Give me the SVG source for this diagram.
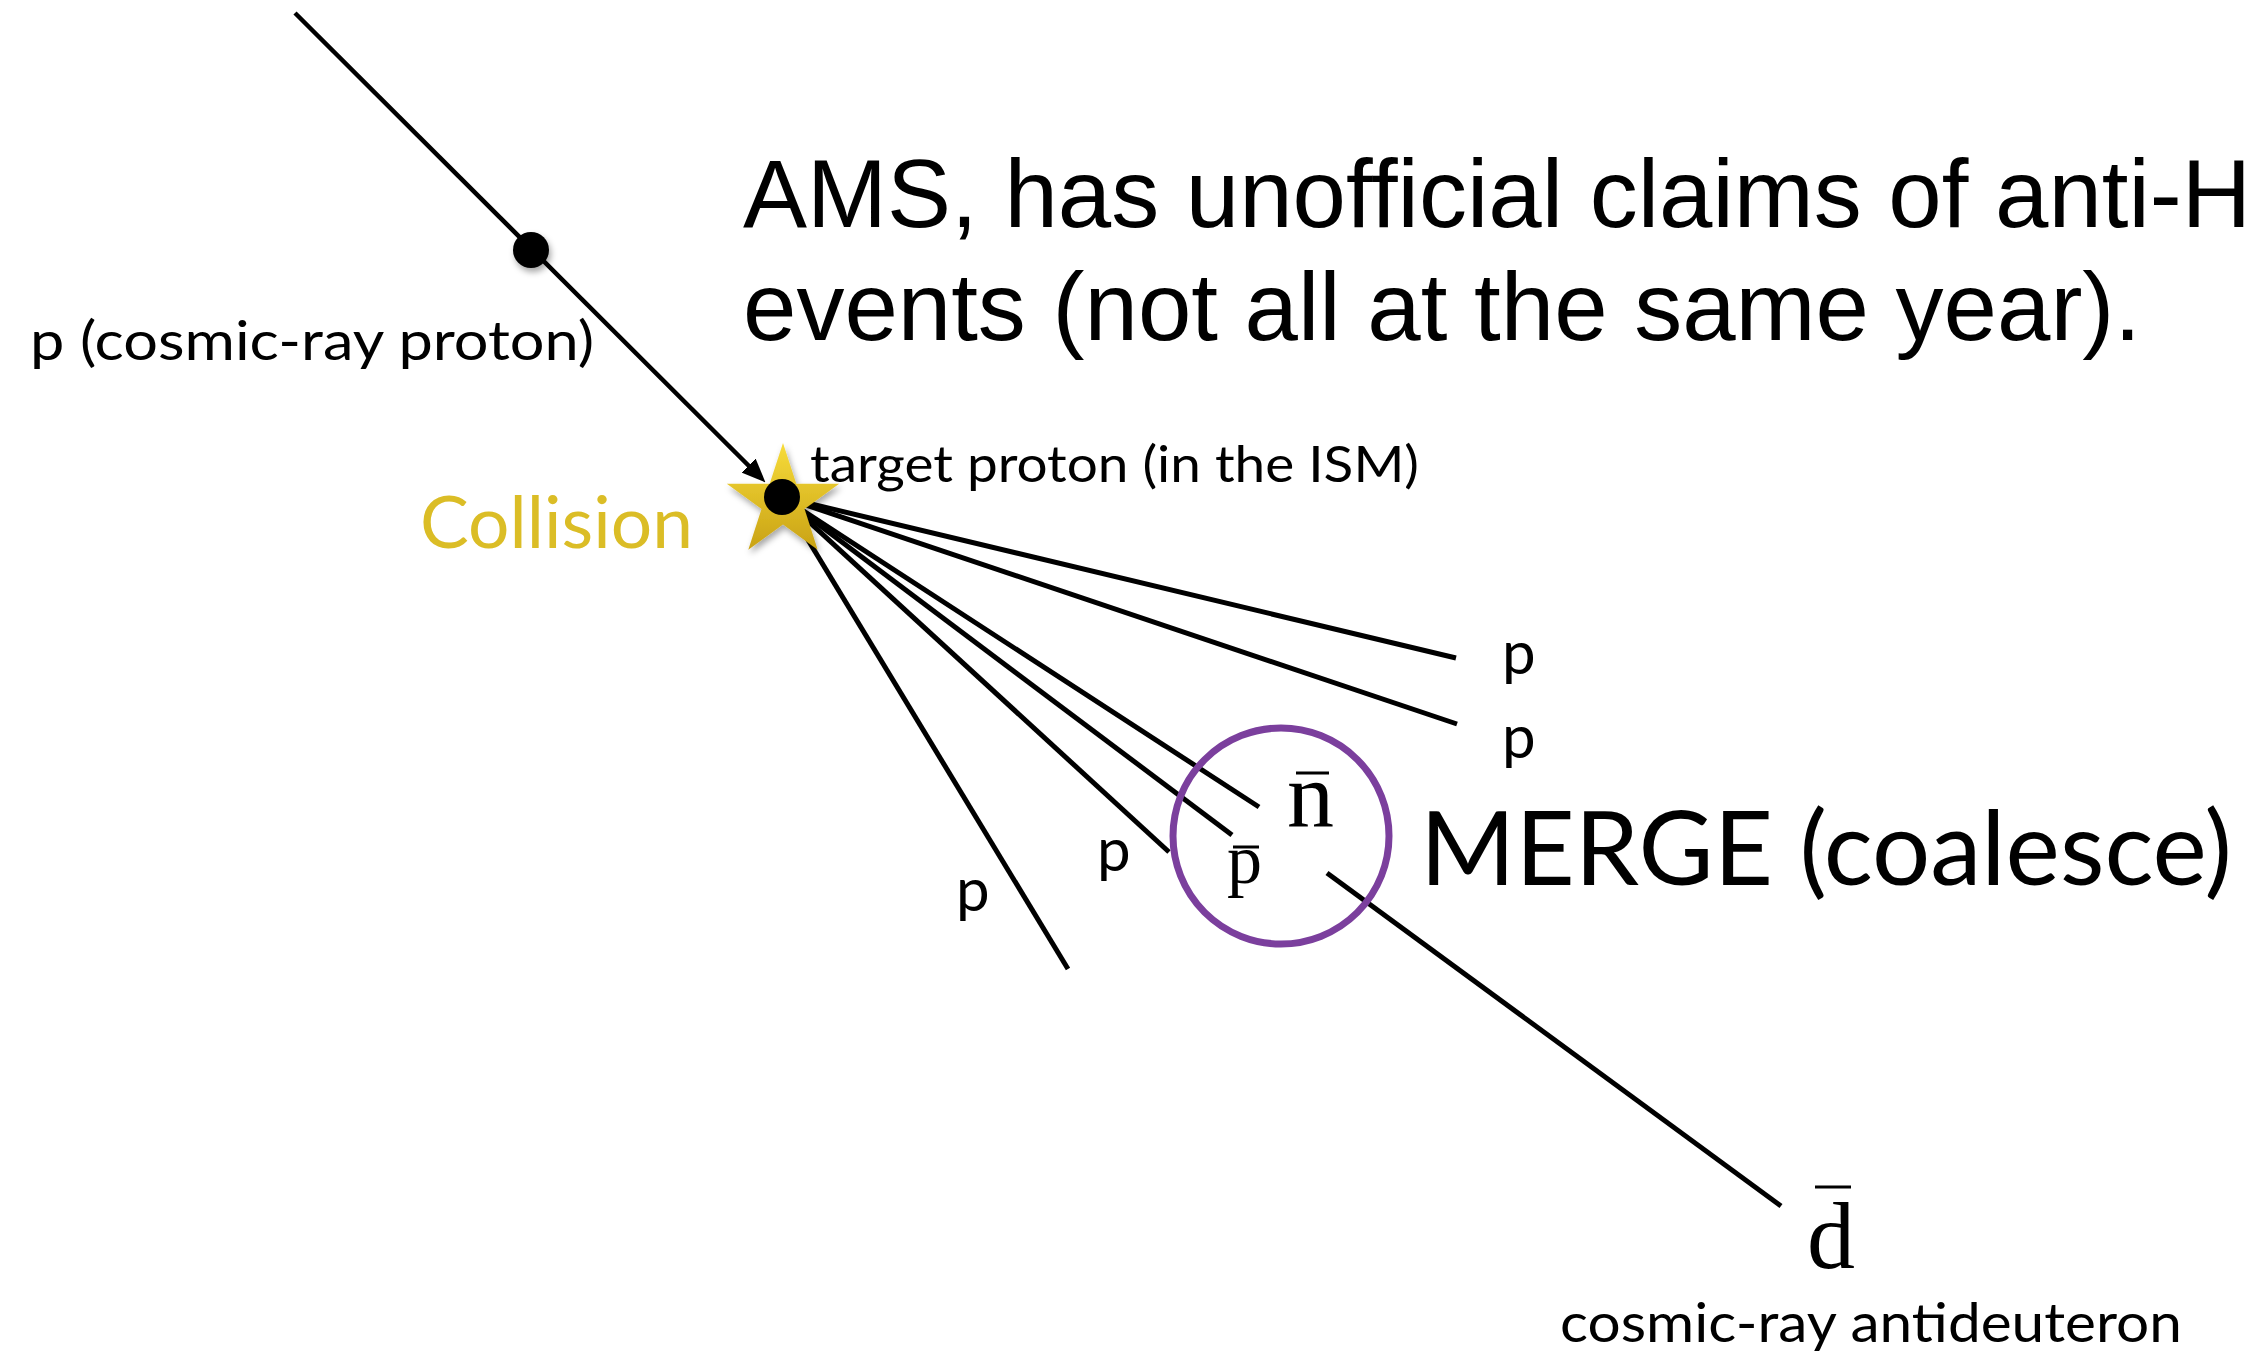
<svg xmlns="http://www.w3.org/2000/svg" width="2254" height="1357" viewBox="0 0 2254 1357">
<defs>
<style>
.trk{stroke:#000;stroke-width:5;fill:none;stroke-linecap:butt}
.sans{font-family:Lato,"Open Sans","DejaVu Sans",sans-serif;fill:#000}
.ams{font-family:"Liberation Sans",Arial,sans-serif;font-size:96px;fill:#000}
.serif{font-family:"Liberation Serif","DejaVu Serif",serif;fill:#000}
.bar{stroke:#000;stroke-width:3}
.plab{font-size:60px}
</style>
<marker id="arr" viewBox="0 0 24 20" markerWidth="24" markerHeight="20" refX="12" refY="10" orient="auto" markerUnits="userSpaceOnUse">
<path d="M0,0 L24,10 L0,20 z" fill="#000"/>
</marker>
<linearGradient id="gold" x1="0" y1="0" x2="0" y2="1">
<stop offset="0" stop-color="#F7DC3A"/>
<stop offset="1" stop-color="#C9A215"/>
</linearGradient>
<filter id="sh" x="-30%" y="-30%" width="160%" height="160%">
<feDropShadow dx="2" dy="4" stdDeviation="3" flood-color="#000" flood-opacity="0.35"/>
</filter>
</defs>
<rect width="2254" height="1357" fill="#fff"/>

<g id="connectors">
<line class="trk" x1="295" y1="13" x2="757" y2="474" style="stroke-width:4.5" marker-end="url(#arr)"/>
<line class="trk" x1="782" y1="497" x2="1456" y2="658"/>
<line class="trk" x1="782" y1="497" x2="1457" y2="724"/>
<line class="trk" x1="782" y1="497" x2="1259" y2="807"/>
<line class="trk" x1="782" y1="497" x2="1232" y2="835"/>
<line class="trk" x1="782" y1="497" x2="1169" y2="852"/>
<line class="trk" x1="782" y1="497" x2="1068" y2="969"/>
<line class="trk" x1="1327" y1="873" x2="1781" y2="1206"/>
</g>

<g id="cosmic-proton">
<circle cx="531" cy="250" r="18" fill="#000" filter="url(#sh)"/>
<text class="sans" x="30" y="360" font-size="54" textLength="564" lengthAdjust="spacingAndGlyphs">p (cosmic-ray proton)</text>
</g>

<g id="collision">
<polygon points="783,443 796.3,483.7 839.2,483.7 804.5,508.9 817.7,549.7 783,524.5 748.3,549.7 761.5,508.9 726.8,483.7 769.7,483.7" fill="url(#gold)" filter="url(#sh)"/>
<circle cx="782" cy="497" r="18" fill="#000"/>
<text class="sans" x="420" y="548" font-size="72" style="fill:#DBBD26" textLength="273" lengthAdjust="spacingAndGlyphs">Collision</text>
<text class="sans" x="810" y="482" font-size="50" textLength="609" lengthAdjust="spacingAndGlyphs">target proton (in the ISM)</text>
</g>

<g id="ams-note">
<text class="ams" x="743" y="227">AMS, has unofficial claims of anti-H</text>
<text class="ams" x="743" y="340">events (not all at the same year).</text>
</g>

<g id="p-labels">
<text class="sans plab" x="1502" y="674">p</text>
<text class="sans plab" x="1502" y="758">p</text>
<text class="sans plab" x="1097" y="871">p</text>
<text class="sans plab" x="956" y="911">p</text>
</g>

<g id="merge">
<circle cx="1281" cy="836" r="108" fill="none" stroke="#7B3F9D" stroke-width="7"/>
<text class="serif" x="1287" y="827" font-size="94">n</text>
<line class="bar" x1="1296" y1="773" x2="1329" y2="773"/>
<text class="serif" x="1227" y="883" font-size="70">p</text>
<line class="bar" x1="1233" y1="847" x2="1259" y2="847"/>
<text class="sans" x="1420" y="885" font-size="102" textLength="812" lengthAdjust="spacingAndGlyphs">MERGE (coalesce)</text>
</g>

<g id="antideuteron">
<text class="serif" x="1807" y="1268" font-size="96">d</text>
<line class="bar" x1="1815" y1="1187" x2="1851" y2="1187" stroke-width="3.5"/>
<text class="sans" x="1560" y="1342" font-size="54" textLength="622" lengthAdjust="spacingAndGlyphs">cosmic-ray antideuteron</text>
</g>
</svg>
